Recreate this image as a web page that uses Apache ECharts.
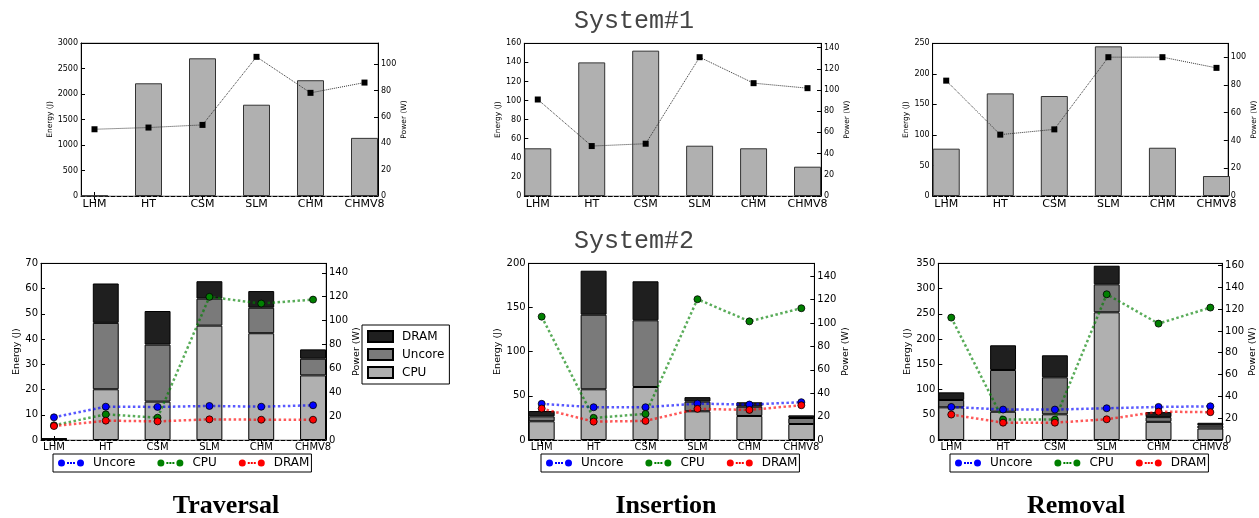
<!DOCTYPE html>
<html><head><meta charset="utf-8">
<script src="https://cdn.jsdelivr.net/npm/echarts@6/dist/echarts.min.js"></script>
<style>html,body{margin:0;padding:0;background:#fff}#c{width:1259px;height:518px}</style>
</head><body><div id="c"></div>
<script>
const categories = ['LHM', 'HT', 'CSM', 'SLM', 'CHM', 'CHMV8'];

// System#1 : energy (J) bars and power (W) line
const s1TraversalEnergy = [5, 2210, 2700, 1790, 2270, 1140];
const s1TraversalPower  = [50.6, 51.9, 53.9, 105.5, 78.2, 86];
const s1InsertionEnergy = [50, 140, 152.3, 52.7, 50, 30.7];
const s1InsertionPower  = [91, 47.1, 49.3, 130.9, 106.4, 101.7];
const s1RemovalEnergy   = [77.5, 168, 163.7, 245, 79, 32.7];
const s1RemovalPower    = [83.1, 44.2, 48, 100, 100, 92.3];

// System#2 : stacked energy (J) and power (W) lines
const s2TraversalCpu    = [0.3, 20.1, 15.2, 45.3, 42.3, 25.6];
const s2TraversalUncore = [0.1, 26.3, 22.6, 10.7, 10.1, 6.6];
const s2TraversalDram   = [0.2, 15.6, 13.3, 6.9, 6.6, 3.7];
const s2TraversalPowUncore = [19, 27.9, 27.7, 28.5, 27.9, 29.1];
const s2TraversalPowCpu    = [12.3, 21.5, 18.7, 119.9, 114.3, 117.6];
const s2TraversalPowDram   = [11.7, 16.2, 15.6, 17.3, 17, 17];

const s2InsertionCpu    = [21.2, 57.4, 60, 32.5, 27.2, 18.1];
const s2InsertionUncore = [5.6, 84.4, 75.5, 10.9, 10.5, 6.8];
const s2InsertionDram   = [6, 49.8, 44.1, 5.1, 5, 3];
const s2InsertionPowUncore = [30.9, 28, 28, 31.1, 30.3, 32.3];
const s2InsertionPowCpu    = [105.4, 18.9, 22.3, 120.3, 101.4, 112.6];
const s2InsertionPowDram   = [26.9, 15.7, 16.3, 26.6, 25.7, 29.7];

const s2RemovalCpu    = [64.7, 56, 50.9, 252.9, 36, 22.7];
const s2RemovalUncore = [14.5, 82.7, 73.3, 55.5, 9.3, 5.9];
const s2RemovalDram   = [15.2, 48.9, 43.6, 36.8, 10, 5.5];
const s2RemovalPowUncore = [30.3, 27.9, 27.9, 29.1, 30.3, 30.9];
const s2RemovalPowCpu    = [112.2, 18.7, 18.7, 133.6, 106.7, 121.4];
const s2RemovalPowDram   = [23.3, 15.9, 15.9, 19, 26, 25.5];

const FONT = 'DejaVu Sans';
const grids = [], xAxes = [], yAxes = [], series = [], legends = [];

// Each panel: a frame grid (visible y axes + box) and a data grid whose
// category bands are one unit wide, extended 0.25 unit past the frame.
function addAxes(p, rect, o) {
  const [L, T, W, H] = rect;
  const u = W / 5.5;
  grids.push({ left: L, top: T, width: W, height: H, show: true, borderColor: '#999', borderWidth: 1, backgroundColor: 'transparent' });
  grids.push({ left: L - 0.25 * u, top: T, width: 6 * u, height: H, show: false });
  const g0 = 2 * p, g1 = 2 * p + 1;
  // frame grid x axes (lines only)
  xAxes.push({ gridIndex: g0, type: 'value', min: 0, max: 1, position: 'bottom',
    axisLine: { show: true, onZero: false, lineStyle: { color: '#000', width: 1, type: 'dashed' } },
    axisTick: { show: false }, axisLabel: { show: false }, splitLine: { show: false } });
  xAxes.push({ gridIndex: g0, type: 'value', min: 0, max: 1, position: 'top',
    axisLine: { show: true, onZero: false, lineStyle: { color: '#000', width: 1 } },
    axisTick: { show: false }, axisLabel: { show: false }, splitLine: { show: false } });
  // data grid category axes
  xAxes.push({ gridIndex: g1, type: 'category', data: categories, position: 'bottom',
    axisLine: { show: false },
    axisTick: { show: true, inside: true, alignWithLabel: true, length: 4, lineStyle: { color: '#000' } },
    axisLabel: { fontSize: o.catFont, fontFamily: FONT, color: '#000', margin: o.catMargin, interval: 0 },
    splitLine: { show: false } });
  xAxes.push({ gridIndex: g1, type: 'category', data: categories, position: 'top',
    axisLine: { show: false },
    axisTick: { show: true, inside: true, alignWithLabel: true, length: 4, lineStyle: { color: '#000' } },
    axisLabel: { show: false }, splitLine: { show: false } });
  const nameStyle = { fontSize: o.nameFont, fontFamily: FONT, color: '#000' };
  yAxes.push({ gridIndex: g0, type: 'value', min: 0, max: o.eMax, interval: o.eInt, position: 'left',
    name: 'Energy (J)', nameLocation: 'middle', nameRotate: 90, nameGap: o.lGap, nameTextStyle: nameStyle,
    axisLine: { show: true, onZero: false, lineStyle: { color: '#000', width: 1 } },
    axisTick: { show: true, inside: true, length: 4, lineStyle: { color: '#000' } },
    axisLabel: { fontSize: o.tickFont, fontFamily: FONT, color: '#000', margin: 3, formatter: v => String(v) },
    splitLine: { show: false } });
  yAxes.push({ gridIndex: g0, type: 'value', min: 0, max: o.pMax, position: 'right',
    name: 'Power (W)', nameLocation: 'middle', nameRotate: 90, nameGap: o.rGap, nameTextStyle: nameStyle,
    axisLine: { show: true, onZero: false, lineStyle: { color: '#000', width: 1 } },
    axisTick: { show: true, inside: true, length: 4, customValues: o.pTicks, lineStyle: { color: '#000' } },
    axisLabel: { customValues: o.pTicks, fontSize: o.tickFont, fontFamily: FONT, color: '#000', margin: 3, formatter: v => String(v) },
    splitLine: { show: false } });
  yAxes.push({ gridIndex: g1, type: 'value', min: 0, max: o.eMax, show: false, splitLine: { show: false } });
  yAxes.push({ gridIndex: g1, type: 'value', min: 0, max: o.pMax, show: false, splitLine: { show: false } });
  return { x: 4 * p + 2, yE: 4 * p + 2, yP: 4 * p + 3 };
}

function topPanel(p, rect, energy, power, o) {
  const ax = addAxes(p, rect, Object.assign({ catFont: 11, catMargin: 3, tickFont: 8, nameFont: 7.5 }, o));
  series.push({
    type: 'bar', name: 'Energy', xAxisIndex: ax.x, yAxisIndex: ax.yE, data: energy, barWidth: '50%',
    itemStyle: { color: '#b0b0b0', borderColor: '#333', borderWidth: 1 }, silent: true
  });
  series.push({
    type: 'line', name: 'Power', xAxisIndex: ax.x, yAxisIndex: ax.yP, data: power,
    symbol: 'rect', symbolSize: 6, itemStyle: { color: '#000' },
    lineStyle: { color: '#333', width: 1, type: 'dotted' }, silent: true, z: 3
  });
}

const lineColors = { Uncore: '#0000ff', CPU: '#008000', DRAM: '#ff0000' };

function bottomPanel(p, rect, cpu, unc, dram, pUnc, pCpu, pDram, o) {
  const ax = addAxes(p, rect, Object.assign({ catFont: 10, catMargin: 2, tickFont: 10, nameFont: 9.5 }, o));
  const stack = 'e' + p;
  [['CPU_bar', cpu, '#b0b0b0'], ['Uncore_bar', unc, '#7a7a7a'], ['DRAM_bar', dram, '#1f1f1f']].forEach(s => {
    series.push({
      type: 'bar', name: s[0], stack: stack, xAxisIndex: ax.x, yAxisIndex: ax.yE, data: s[1], barWidth: '50%',
      itemStyle: { color: s[2], borderColor: '#000', borderWidth: 1 }, silent: true
    });
  });
  [['Uncore', pUnc], ['CPU', pCpu], ['DRAM', pDram]].forEach(s => {
    const c = lineColors[s[0]];
    series.push({
      type: 'line', name: s[0], xAxisIndex: ax.x, yAxisIndex: ax.yP, data: s[1],
      symbol: 'circle', symbolSize: 7,
      itemStyle: { color: c, borderColor: '#000', borderWidth: 0.8 },
      lineStyle: { color: c, width: 2.5, type: 'dotted', opacity: 0.65 }, silent: true, z: 3
    });
  });
}

topPanel(0, [81, 43, 297, 153], s1TraversalEnergy, s1TraversalPower,
  { eMax: 3000, eInt: 500, pMax: 116, pTicks: [0, 20, 40, 60, 80, 100], lGap: 27, rGap: 21 });
topPanel(1, [524.3, 43.3, 296.7, 152.7], s1InsertionEnergy, s1InsertionPower,
  { eMax: 160, eInt: 20, pMax: 144, pTicks: [0, 20, 40, 60, 80, 100, 120, 140], lGap: 22, rGap: 20 });
topPanel(2, [932.7, 43.3, 297.3, 152.7], s1RemovalEnergy, s1RemovalPower,
  { eMax: 250, eInt: 50, pMax: 110, pTicks: [0, 20, 40, 60, 80, 100], lGap: 22, rGap: 19 });

bottomPanel(3, [41, 263.3, 285, 176.7], s2TraversalCpu, s2TraversalUncore, s2TraversalDram,
  s2TraversalPowUncore, s2TraversalPowCpu, s2TraversalPowDram,
  { eMax: 70, eInt: 10, pMax: 148, pTicks: [0, 20, 40, 60, 80, 100, 120, 140], lGap: 18, rGap: 26 });
bottomPanel(4, [528.7, 263.3, 285.6, 176.7], s2InsertionCpu, s2InsertionUncore, s2InsertionDram,
  s2InsertionPowUncore, s2InsertionPowCpu, s2InsertionPowDram,
  { eMax: 200, eInt: 50, pMax: 151, pTicks: [0, 20, 40, 60, 80, 100, 120, 140], lGap: 26, rGap: 25 });
bottomPanel(5, [938.3, 263.3, 285, 176.7], s2RemovalCpu, s2RemovalUncore, s2RemovalDram,
  s2RemovalPowUncore, s2RemovalPowCpu, s2RemovalPowDram,
  { eMax: 350, eInt: 50, pMax: 162, pTicks: [0, 20, 40, 60, 80, 100, 120, 140, 160], lGap: 26, rGap: 16 });

// Legends
legends.push({
  left: 362, top: 325, orient: 'vertical', data: ['DRAM_bar', 'Uncore_bar', 'CPU_bar'],
  formatter: n => n.replace('_bar', ''), icon: 'rect', itemWidth: 25, itemHeight: 11, itemGap: 5,
  padding: [5, 5, 5, 5], borderColor: '#000', borderWidth: 1, selectedMode: false, backgroundColor: '#fff',
  textStyle: { fontSize: 12, fontFamily: FONT, color: '#000', padding: [0, 0, 0, 4] }
});
const LINE_ICON = 'path://M0,3.5A3.5,3.5 0 1,1 7,3.5A3.5,3.5 0 1,1 0,3.5Z' +
  'M9,2.5h2v2h-2Z M12,2.5h2v2h-2Z M15,2.5h2v2h-2Z' +
  'M19,3.5A3.5,3.5 0 1,1 26,3.5A3.5,3.5 0 1,1 19,3.5Z';
[53, 541, 950].forEach(x => {
  legends.push({
    left: x, top: 454, orient: 'horizontal', data: ['Uncore', 'CPU', 'DRAM'],
    icon: LINE_ICON, itemWidth: 26, itemHeight: 7, itemGap: 22,
    padding: [3, 2, 3, 5], borderColor: '#000', borderWidth: 1, selectedMode: false,
    itemStyle: { borderWidth: 0 },
    textStyle: { fontSize: 12, fontFamily: FONT, color: '#000', padding: [0, 0, 0, 4] }
  });
});

const textEl = (t, x, y, size, family, weight, fill) => ({
  type: 'text', x: x, y: y, silent: true,
  style: { text: t, fontSize: size, fontFamily: family, fontWeight: weight, fill: fill, align: 'center', verticalAlign: 'middle' }
});

const chart = echarts.init(document.getElementById('c'), null, { renderer: 'canvas' });
chart.setOption({
  animation: false,
  backgroundColor: '#fff',
  grid: grids, xAxis: xAxes, yAxis: yAxes, series: series, legend: legends,
  graphic: [
    textEl('System#1', 634, 21, 25, 'Liberation Mono', 'normal', '#444'),
    textEl('System#2', 634, 241, 25, 'Liberation Mono', 'normal', '#444'),
    textEl('Traversal', 226, 506, 26, 'Liberation Serif', 'bold', '#000'),
    textEl('Insertion', 666, 506, 26, 'Liberation Serif', 'bold', '#000'),
    textEl('Removal', 1076, 506, 26, 'Liberation Serif', 'bold', '#000')
  ]
});
</script></body></html>
